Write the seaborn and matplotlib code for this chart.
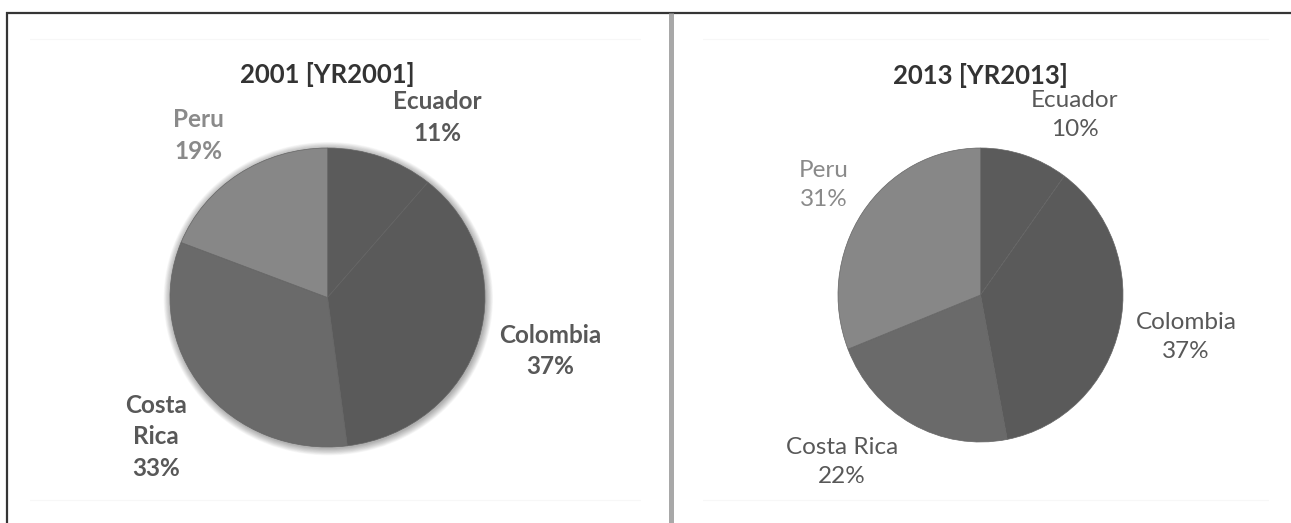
import matplotlib
matplotlib.use("Agg")
import matplotlib.pyplot as plt
from matplotlib.lines import Line2D
from matplotlib.patches import Ellipse
import seaborn as sns

# Share of each country, by year
countries = ["Ecuador", "Colombia", "Costa Rica", "Peru"]
share_2001 = [11, 37, 33, 19]
share_2013 = [10, 37, 22, 31]
titles = ["2001 [YR2001]", "2013 [YR2013]"]

# Wedge fills and label colours (grayscale)
wedge_colors = ["#5b5b5b", "#5a5a5a", "#6a6a6a", "#878787"]
label_colors = ["#585858", "#585858", "#585858", "#8a8a8a"]

sns.set_theme(style="white")
plt.rcParams["font.family"] = ["Lato", "DejaVu Sans"]

W, H = 1291, 523
fig = plt.figure(figsize=(W / 100, H / 100), dpi=100)
fig.patch.set_facecolor("white")


def px_axes(cx, cy, rx, ry, lim=1.5):
    """Axes whose data unit equals rx/ry pixels, centred on pixel (cx, cy) from the top-left."""
    w, h = 2 * lim * rx, 2 * lim * ry
    left = cx - w / 2
    bottom = (H - cy) - h / 2
    return fig.add_axes([left / W, bottom / H, w / W, h / H])


panels = [
    dict(values=share_2001, title=titles[0], cx=327.5, cy=297.5, rx=157.5, ry=149.5,
         weight="bold", shadow=True, title_y=1.49,
         labels=["Ecuador\n{}%", "Colombia\n{}%", "Costa\nRica\n{}%", "Peru\n{}%"],
         pos=[(0.695, 1.204), (1.413, -0.358), (-1.089, -0.933), (-0.822, 1.084)]),
    dict(values=share_2013, title=titles[1], cx=980.5, cy=295.0, rx=142.5, ry=147.0,
         weight="normal", shadow=False, title_y=1.49,
         labels=["Ecuador\n{}%", "Colombia\n{}%", "Costa Rica\n{}%", "Peru\n{}%"],
         pos=[(0.663, 1.224), (1.442, -0.289), (-0.972, -1.133), (-1.098, 0.748)]),
]

for p in panels:
    ax = px_axes(p["cx"], p["cy"], p["rx"], p["ry"])
    if p["shadow"]:
        # soft halo around the pie
        for k in range(1, 13):
            grow = k * 0.6
            ax.add_patch(Ellipse((0.8 / p["rx"], -1.2 / p["ry"]),
                                 2 * (1 + grow / p["rx"]), 2 * (1 + grow / p["ry"]),
                                 facecolor="black", edgecolor="none", alpha=0.028, zorder=0))
    wedges, _ = ax.pie(p["values"], colors=wedge_colors, startangle=90, counterclock=False,
                       wedgeprops=dict(edgecolor="#656565", linewidth=0.5))
    for wdg in wedges:
        wdg.set_zorder(2)
    ax.set_aspect("auto")
    ax.set_xlim(-1.5, 1.5)
    ax.set_ylim(-1.5, 1.5)
    ax.axis("off")

    for lab, val, (x, y), col in zip(p["labels"], p["values"], p["pos"], label_colors):
        ax.text(x, y, lab.format(val), ha="center", va="center", multialignment="center",
                color=col, fontsize=17.5, fontweight=p["weight"], linespacing=1.47)
    ax.text(0, p["title_y"], p["title"], ha="center", va="center", color="#333333",
            fontsize=18.5, fontweight="bold")


def hline(y, x0, x1, **kw):
    fig.add_artist(Line2D([x0 / W, x1 / W], [1 - y / H, 1 - y / H], transform=fig.transFigure, **kw))


def vline(x, y0, y1, **kw):
    fig.add_artist(Line2D([x / W, x / W], [1 - y0 / H, 1 - y1 / H], transform=fig.transFigure, **kw))


# faint chart-area edges
for y in (39, 500):
    hline(y, 30, 640, color="#f7f7f7", linewidth=0.8)
    hline(y, 703, 1268, color="#f7f7f7", linewidth=0.8)

# outer frame and divider
hline(12.5, 6, W, color="#353535", linewidth=1.6, solid_capstyle="butt")
vline(7, 12, H, color="#353535", linewidth=1.6, solid_capstyle="butt")
vline(670.5, 13, H, color="#a8a8a8", linewidth=3.6, solid_capstyle="butt")

fig.savefig("out.png", dpi=100, facecolor="white")
